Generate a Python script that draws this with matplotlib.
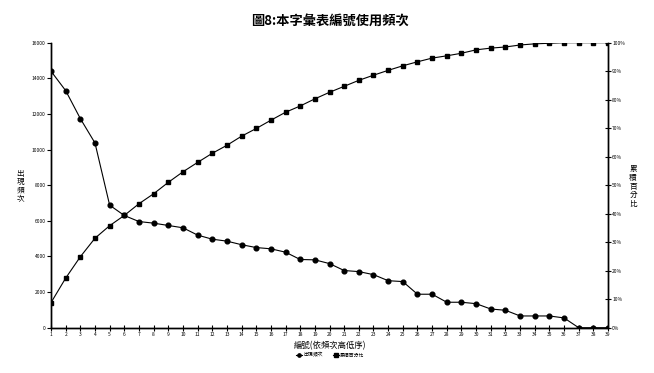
import numpy as np; import matplotlib.pyplot as plt

plt.rcParams['font.family'] = ['Noto Sans CJK TC', 'DejaVu Sans']

T = '圖8:本字彙表編號使用頻次'
# 編號 1..39, 依頻次高低排序
x_labels = [str(i) for i in range(1, 40)]
freq = [14400, 13310, 11740, 10370, 6880, 6300, 5960, 5870, 5740, 5610,
        5200, 4970, 4860, 4660, 4500, 4430, 4240, 3830, 3810, 3600,
        3210, 3150, 2980, 2640, 2590, 1880, 1880, 1430, 1430, 1350,
        1050, 980, 660, 660, 660, 550, 0, 0, 0]
cum_pct = [8.8, 17.4, 24.9, 31.4, 35.8, 39.4, 43.5, 47.0, 51.0, 54.7,
           58.0, 61.2, 64.0, 67.2, 69.9, 72.8, 75.6, 77.8, 80.3, 82.6,
           84.7, 86.8, 88.6, 90.3, 91.9, 93.3, 94.6, 95.4, 96.3, 97.5,
           98.1, 98.5, 99.2, 99.6, 99.8, 100, 100, 100, 100]

fig = plt.figure(figsize=(6.54, 3.73), dpi=100)
ax = fig.add_axes([0.078, 0.1214, 0.8517, 0.7641])
ax2 = ax.twinx()
xs = np.arange(len(x_labels))

l1, = ax.plot(xs, freq, '-', color='black', lw=0.8, marker='o', ms=3.4, label='出現頻次')
l2, = ax2.plot(xs, cum_pct, '-', color='black', lw=0.8, marker='s', ms=3.4, label='累積百分比')

ax.set_xlim(0, len(x_labels) - 1)
ax.set_ylim(0, 16000); ax2.set_ylim(0, 100)
ax.set_xticks(xs); ax.set_xticklabels(x_labels)
ax.set_yticks(np.arange(0, 16001, 2000))
ax2.set_yticks(np.arange(0, 101, 10))
ax2.set_yticklabels([f'{v}%' for v in range(0, 101, 10)])
ax.tick_params(axis='x', direction='inout', length=4, width=0.8, labelsize=3.5, pad=1)
ax.tick_params(axis='y', direction='out', length=3, width=0.8, labelsize=3.5, pad=1)
ax2.tick_params(axis='y', direction='inout', length=4, width=0.8, labelsize=3.5, pad=1)
for a in (ax, ax2):
    a.spines['top'].set_visible(False)
    for s in ('left', 'bottom', 'right'): a.spines[s].set_linewidth(1.0)

fig.text(0.505, 0.944, T, ha='center', va='center', fontsize=9.5, weight='bold')
fig.text(0.031, 0.50, '出\n現\n頻\n次', ha='center', va='center', fontsize=5.5,
         linespacing=1.1, rotation=0)
fig.text(0.968, 0.50, '累\n積\n百\n分\n比', ha='center', va='center', fontsize=5.5,
         linespacing=1.1, rotation=0)
fig.text(0.505, 0.073, '編號(依頻次高低序)', ha='center', va='center', fontsize=6)
fig.legend(handles=[l1, l2], loc='center', bbox_to_anchor=(0.505, 0.048), ncol=2, frameon=False,
           fontsize=3.5, handlelength=1.2, markerscale=0.7, columnspacing=2, handletextpad=0.3)

plt.savefig('out.png', dpi=100)
